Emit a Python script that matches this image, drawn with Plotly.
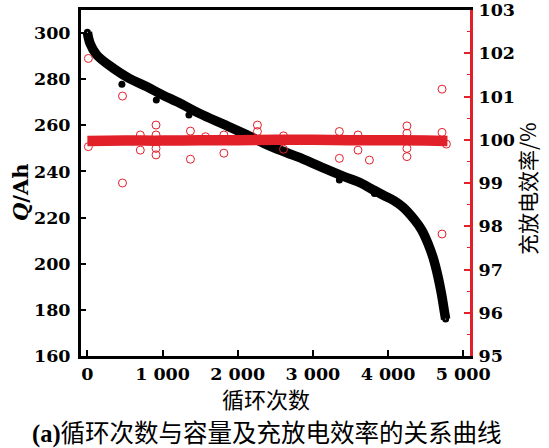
import plotly.graph_objects as go

# ---- data ----
cap_cycles = [0, 36, 125, 347, 550, 793, 1000, 1238, 1500, 1816, 2100, 2439, 2800, 3107, 3400, 3643, 3775, 3950, 4086, 4200, 4353, 4450, 4531, 4600, 4664, 4710, 4753, 4766]
cap_values = [300.3, 295.5, 290.5, 284.7, 280.5, 276.7, 273.2, 269.5, 265.0, 260.4, 256.2, 250.9, 246.3, 242.0, 238.0, 234.9, 232.5, 229.5, 227.2, 224.5, 219.0, 214.5, 208.8, 202.5, 194.4, 187.0, 178.5, 176.0]

cap_out_cycles = [459, 917, 1351, 3352, 3819]
cap_out_values = [277.8, 271.0, 264.5, 236.3, 230.5]

eff_cycles = [0, 500, 1000, 1500, 2000, 2500, 3000, 3500, 4000, 4500, 4790]
eff_values = [99.97, 99.98, 99.98, 99.99, 99.99, 100.0, 100.0, 99.99, 99.99, 99.98, 99.97]

eff_out_cycles = [13, 13, 467, 467, 704, 704, 913, 913, 913, 913, 1371, 1371, 1571, 1816, 1816,
                  2262, 2262, 2609, 2609, 3352, 3352, 3600, 3600, 3752, 4251, 4251, 4251, 4251,
                  4718, 4718, 4776, 4718]
eff_out_values = [101.88, 99.84, 101.01, 99.0, 100.11, 99.76, 100.34, 100.11, 99.8, 99.65, 100.2, 99.55,
                  100.07, 100.11, 99.69, 100.34, 100.19, 100.09, 99.78, 100.19, 99.57, 100.11, 99.76,
                  99.53, 100.32, 100.15, 99.8, 99.61, 101.17, 100.17, 99.9, 97.82]

x_tickvals = [0, 1000, 2000, 3000, 4000, 5000]
x_ticktext = ["0", "1 000", "2 000", "3 000", "4 000", "5 000"]
y1_tickvals = [160, 180, 200, 220, 240, 260, 280, 300]
y2_tickvals = [95, 96, 97, 98, 99, 100, 101, 102, 103]

RED = "rgb(226,32,42)"
TICKFONT = dict(family="DejaVu Serif", size=17.5, color="black", weight="bold")

fig = go.Figure()

fig.add_trace(go.Scatter(x=cap_cycles, y=cap_values, mode="lines",
                         line=dict(color="black", width=9.5, shape="spline"),
                         showlegend=False))
fig.add_trace(go.Scatter(x=[cap_cycles[0], cap_cycles[-1]], y=[cap_values[0], cap_values[-1]],
                         mode="markers",
                         marker=dict(color="white", size=4, line=dict(color="black", width=3)),
                         showlegend=False))
fig.add_trace(go.Scatter(x=cap_out_cycles, y=cap_out_values, mode="markers",
                         marker=dict(color="black", size=7),
                         showlegend=False))

fig.add_trace(go.Scatter(x=eff_cycles, y=eff_values, mode="lines", yaxis="y2",
                         line=dict(color=RED, width=10.5, shape="spline"),
                         showlegend=False))
fig.add_trace(go.Scatter(x=eff_out_cycles, y=eff_out_values, mode="markers", yaxis="y2",
                         marker=dict(symbol="circle-open", color=RED, size=8,
                                     line=dict(width=1, color=RED)),
                         showlegend=False))

L, R, T, B = 81, 79, 10, 92
W, H = 549, 448
pw, ph = W - L - R, H - T - B

def px(xp):
    return (xp - L) / pw

def py(yp):
    return (H - B - yp) / ph

fig.update_layout(
    width=W, height=H,
    margin=dict(l=L, r=R, t=T, b=B, autoexpand=False),
    paper_bgcolor="white", plot_bgcolor="white",
    xaxis=dict(range=[-85, 5090], tickvals=x_tickvals, ticktext=x_ticktext,
               showgrid=False, zeroline=False, showline=True, linecolor="black",
               linewidth=3, mirror=True, ticks="inside", ticklen=6, tickwidth=1.5,
               tickcolor="black", tickfont=TICKFONT, automargin=False),
    yaxis=dict(range=[160, 310], tickvals=y1_tickvals, showgrid=False, zeroline=False,
               showline=True, linecolor="black", linewidth=3, ticks="inside",
               ticklen=5, tickwidth=1.5, tickcolor="black", tickfont=TICKFONT,
               ticklabelstandoff=4, automargin=False),
    yaxis2=dict(range=[95, 103], tickvals=y2_tickvals, overlaying="y", side="right",
                showgrid=False, zeroline=False, showline=True, linecolor=RED,
                linewidth=3, ticks="inside", ticklen=6, tickwidth=1.5, tickcolor=RED,
                minor=dict(dtick=0.5, ticks="inside", ticklen=3, tickwidth=1.2, tickcolor=RED),
                tickfont=TICKFONT, ticklabelstandoff=2, automargin=False),
    annotations=[
        dict(text="<i>Q</i>/Ah", xref="paper", yref="paper", x=px(20), y=py(192),
             textangle=-90, showarrow=False, xanchor="center", yanchor="middle",
             font=dict(family="DejaVu Serif", size=21, color="black", weight="bold")),
        dict(text="充放电效率/%", xref="paper", yref="paper", x=px(527), y=py(189),
             textangle=-90, showarrow=False, xanchor="center", yanchor="middle",
             font=dict(family="Noto Sans CJK SC", size=21, color="black")),
        dict(text="循环次数", xref="paper", yref="paper", x=px(266), y=py(397.5),
             showarrow=False, xanchor="center", yanchor="middle",
             font=dict(family="Noto Sans CJK SC", size=22, color="black")),
        dict(text="<span style=\"font-family:'Liberation Serif';font-weight:bold\">(a)</span>循环次数与容量及充放电效率的关系曲线",
             xref="paper", yref="paper",
             x=px(267), y=py(431), showarrow=False, xanchor="center", yanchor="middle",
             font=dict(family="Noto Sans CJK SC", size=24.5, color="black")),
    ],
)

fig.write_html("out.html")
